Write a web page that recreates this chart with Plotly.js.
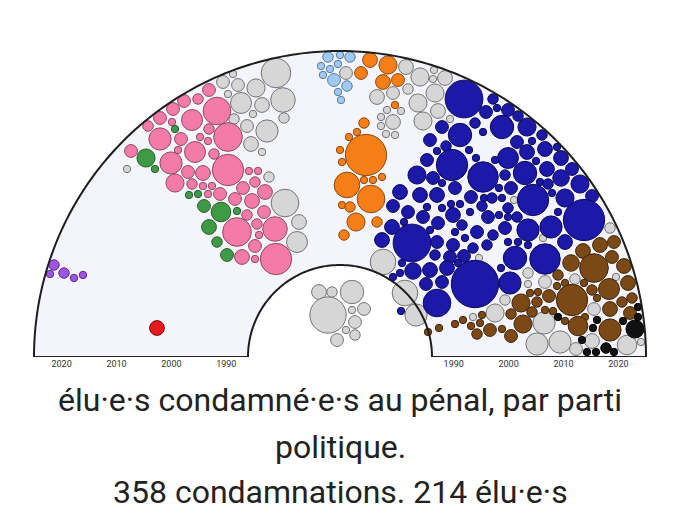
<!DOCTYPE html>
<html><head><meta charset="utf-8">
<script src="https://cdn.plot.ly/plotly-3.0.1.min.js"></script>
<style>html,body{margin:0;padding:0;background:#fff}</style>
</head><body>
<div id="chart" style="width:680px;height:526px"></div>
<script>
// ---- DATA: each conviction = [x, y, weight] (x,y in hemicycle layout units, centre = 0,0) ----
const PS = [[-156,256,3],[-167,248,3],[-180,239,3],[-168,235,1],[-148,237,8],[-192,231,2],[-180,218,9],[-159,218,3],[-209,206,3],[-169,194,9],[-162,207,1],[-165,174,6],[-152,185,3],[-131,267,3],[-142,258,2],[-123,246,14],[-131,228,2],[-140,220,1],[-132,216,1],[-112,220,15],[-145,205,8],[-126,203,2],[-112,187,18],[-137,184,4],[-91,186,1],[-82,186,1],[-85,175,2],[-148,173,2],[-137,171,1],[-128,171,1],[-97,169,3],[-120,163,3],[-105,158,3],[-132,163,1],[-75,165,4],[-88,156,4],[-76,145,3],[-93,142,2],[-83,133,2],[-65,128,11],[-103,125,15],[-81,122,1],[-85,111,3],[-98,100,4],[-85,98,1],[-64,98,18]];
const VERTS = [[-165,228,1],[-194,199,6],[-185,188,1],[-151,162,1],[-142,163,1],[-136,151,3],[-119,145,7],[-103,146,1],[-131,130,4],[-123,115,2],[-113,102,3]];
const DIVERS = [[-213,188,1],[-64,284,16],[-57,257,11],[-56,239,2],[-84,269,6],[-102,272,3],[-107,283,1],[-117,275,3],[-112,263,1],[-99,254,8],[-78,252,4],[-87,243,1],[-106,238,2],[-93,231,3],[-73,226,9],[-89,213,4],[-78,205,1],[-71,180,2],[-55,154,14],[-41,135,4],[-43,115,8],
  [6,284,3],[66,290,4],[80,280,6],[94,287,1],[93,278,1],[105,279,4],[68,268,2],[95,264,6],[78,254,6],[98,246,4],[110,238,1],[83,236,6],[37,260,4],[53,264,3],[47,247,1],[61,246,1],[41,240,1],[53,235,4],[41,231,1],[46,223,1],[55,222,1],
  [-21,65,4],[-8,65,2],[-12,42,24],[-3,17,3],[12,65,10],[12,47,1],[24,48,3],[15,35,3],[6,27,1],[15,22,2],
  [43,95,12],[65,64,12],[76,42,9],[139,99,1],[133,40,1],[155,44,6],[188,84,2],[188,73,1],[205,75,3],[235,78,2],[276,80,1],[165,57,2],[254,48,3],[204,34,9],[197,13,9],[220,15,9],[236,8,3],[252,16,4],[287,12,7],[301,15,1],[174,157,1],[203,119,1],[270,129,2]];
const UDI = [[-12,300,2],[0,302,1],[-19,291,1],[-10,288,1],[-2,293,1],[-17,282,1],[-6,277,3],[-2,265,1],[1,257,1],[10,300,2],[7,271,2]];
const MODEM = [[30,297,4],[48,292,6],[21,284,3],[43,275,4],[58,277,3],[55,252,1],[24,234,2],[17,225,1],[9,220,1],[0,207,1],[2,195,1],[26,202,31],[7,172,12],[31,158,14],[24,177,1],[33,177,1],[42,180,1],[2,152,1],[10,150,2],[16,135,6],[37,135,2],[4,122,2]];
const LR = [[124,258,26],[153,258,2],[146,245,3],[135,234,2],[143,225,1],[120,222,10],[102,230,3],[90,217,3],[106,211,2],[97,206,1],[157,249,1],[168,247,3],[178,241,2],[162,230,10],[187,230,6],[202,222,2],[192,216,1],[177,215,3],[205,208,4],[217,210,1],[187,205,4],[168,199,8],[221,199,4],[232,188,3],[196,196,1],[185,184,10],[207,188,4],[221,179,5],[240,173,6],[252,161,3],[165,182,2],[159,169,1],[171,169,3],[200,175,1],[208,173,2],[193,157,18],[212,164,1],[225,159,6],[162,159,1],[168,149,2],[159,142,1],[168,140,1],[177,140,2],[218,145,1],[211,130,9],[244,137,31],[188,127,9],[165,129,3],[168,115,1],[178,115,1],[188,112,1],[225,115,4],[175,99,10],[205,98,17],[170,74,9],[161,89,1],
  [77,182,6],[87,197,3],[112,192,18],[129,207,1],[136,199,1],[143,180,17],[155,197,1],[102,174,1],[93,179,3],[80,162,4],[97,162,4],[115,169,3],[60,165,4],[53,151,3],[68,145,3],[87,150,1],[102,149,1],[111,153,1],[120,153,1],[131,160,3],[144,159,1],[152,159,2],[142,151,2],[148,140,3],[83,140,3],[98,134,3],[113,142,4],[130,145,1],[52,130,4],[64,135,1],[90,127,1],[72,114,26],[97,115,3],[115,125,1],[122,132,2],[125,119,1],[137,125,3],[153,122,2],[42,117,4],[113,112,3],[133,109,2],[147,112,2],
  [95,102,2],[110,100,3],[124,101,3],[62,94,1],[60,84,1],[53,80,1],[73,86,5],[90,87,4],[107,89,4],[118,94,1],[135,73,41],[86,73,3],[102,75,3],[97,54,14],[61,46,1]];
const RN = [[88,25,1],[99,29,1],[115,33,1],[123,37,1],[131,31,1],[140,34,1],[142,42,1],[137,23,2],[150,27,3],[162,28,1],[231,94,5],[243,106,4],[254,89,15],[272,100,3],[284,91,4],[288,74,4],[269,68,8],[218,82,2],[225,74,1],[217,71,1],[244,74,1],[252,67,2],[190,64,1],[198,65,1],[209,61,3],[232,57,18],[181,54,6],[197,55,2],[257,59,1],[282,55,2],[292,59,2],[270,48,4],[290,44,3],[192,45,2],[205,47,1],[213,46,1],[225,36,1],[245,40,1],[171,43,2],[183,33,6],[238,31,7],[270,27,9],[171,21,3],[260,112,4],[274,115,3]];
const EXTD = [[298,50,1],[298,40,1],[218,40,1],[257,37,1],[253,29,1],[295,28,6],[283,36,1],[242,17,1],[247,5,1],[256,5,1],[266,9,2],[274,5,1]];
const LFI = [[-286,92,2],[-290,83,1],[-276,84,2],[-266,79,1],[-257,82,1]];
const PCF = [[-183,29,4]];

const yearTicks = [1990, 2000, 2010, 2020];
const titleLines = ["élu·e·s condamné·e·s au pénal, par parti", "politique.", "358 condamnations. 214 élu·e·s"];

// ---- SCALES / STYLES ----
const R_OUT = 306, R_IN = 92;
const R1990 = 113.7, PX_PER_YEAR = 5.49;
const yearToR = y => R1990 + (y - 1990) * PX_PER_YEAR;
const sizeOf = n => 7.4 * Math.sqrt(n);

const groups = [
  {d: DIVERS, c: '#d6d6d6', l: '#747474'},
  {d: PS, c: '#f47aa7', l: '#8a4d62'},
  {d: VERTS, c: '#3e9a45', l: '#2b5f2e'},
  {d: UDI, c: '#9fcaf3', l: '#5b7b99'},
  {d: MODEM, c: '#f67e17', l: '#8a4a12'},
  {d: LR, c: '#1c18a8', l: '#0c0a55'},
  {d: RN, c: '#7b4916', l: '#3e250c'},
  {d: EXTD, c: '#111111', l: '#000000'},
  {d: LFI, c: '#a054e6', l: '#5b2e85'},
  {d: PCF, c: '#e8191c', l: '#7a0d0e'}
];

const traces = groups.map(g => ({
  type: 'scatter', mode: 'markers',
  x: g.d.map(p => p[0]), y: g.d.map(p => p[1]),
  marker: {size: g.d.map(p => sizeOf(p[2])), color: g.c, opacity: 1, line: {color: g.l, width: 1}},
  hoverinfo: 'skip', cliponaxis: false, showlegend: false
}));

function arcPts(r, a0, a1, steps) {
  const pts = [];
  for (let i = 0; i <= steps; i++) {
    const a = a0 + (a1 - a0) * i / steps;
    pts.push([r * Math.cos(a), r * Math.sin(a)]);
  }
  return pts;
}
const outer = arcPts(R_OUT, Math.PI, 0, 240);
const inner = arcPts(R_IN, 0, Math.PI, 120);
const all = outer.concat(inner);
const path = 'M ' + all.map(p => p[0].toFixed(2) + ',' + p[1].toFixed(2)).join(' L ') + ' Z';

const tickvals = [], ticktext = [];
yearTicks.slice().reverse().forEach(y => { tickvals.push(-yearToR(y)); ticktext.push(String(y)); });
yearTicks.forEach(y => { tickvals.push(yearToR(y)); ticktext.push(String(y)); });

const plotTop = 40, plotBottom = 357, plotH = plotBottom - plotTop;
const lineY = [400, 447, 492];
const annotations = titleLines.map((t, i) => ({
  text: t, xref: 'paper', yref: 'paper', x: 0.5, y: (plotBottom - lineY[i]) / plotH,
  xanchor: 'center', yanchor: 'middle', showarrow: false,
  font: {family: 'Roboto, sans-serif', size: 32, color: '#222222'}
}));

const layout = {
  width: 680, height: 526, autosize: false,
  margin: {l: 0, r: 0, t: plotTop, b: 526 - plotBottom, pad: 0},
  paper_bgcolor: '#ffffff', plot_bgcolor: 'rgba(0,0,0,0)',
  xaxis: {range: [-340, 340], showgrid: false, zeroline: false, showline: false, fixedrange: true,
          tickmode: 'array', tickvals: tickvals, ticktext: ticktext, ticks: '',
          tickfont: {family: 'Roboto, sans-serif', size: 9, color: '#333333'}},
  yaxis: {range: [0, plotH], visible: false, fixedrange: true},
  shapes: [
    {type: 'path', path: path, xref: 'x', yref: 'y', fillcolor: '#f4f5fc', line: {width: 0}, layer: 'below'},
    {type: 'path', path: path, xref: 'x', yref: 'y', fillcolor: 'rgba(0,0,0,0)', line: {color: '#1e1e1e', width: 2}, layer: 'above'}
  ],
  annotations: annotations,
  showlegend: false
};

Plotly.newPlot('chart', traces, layout, {staticPlot: true, displayModeBar: false});
</script>
</body></html>
